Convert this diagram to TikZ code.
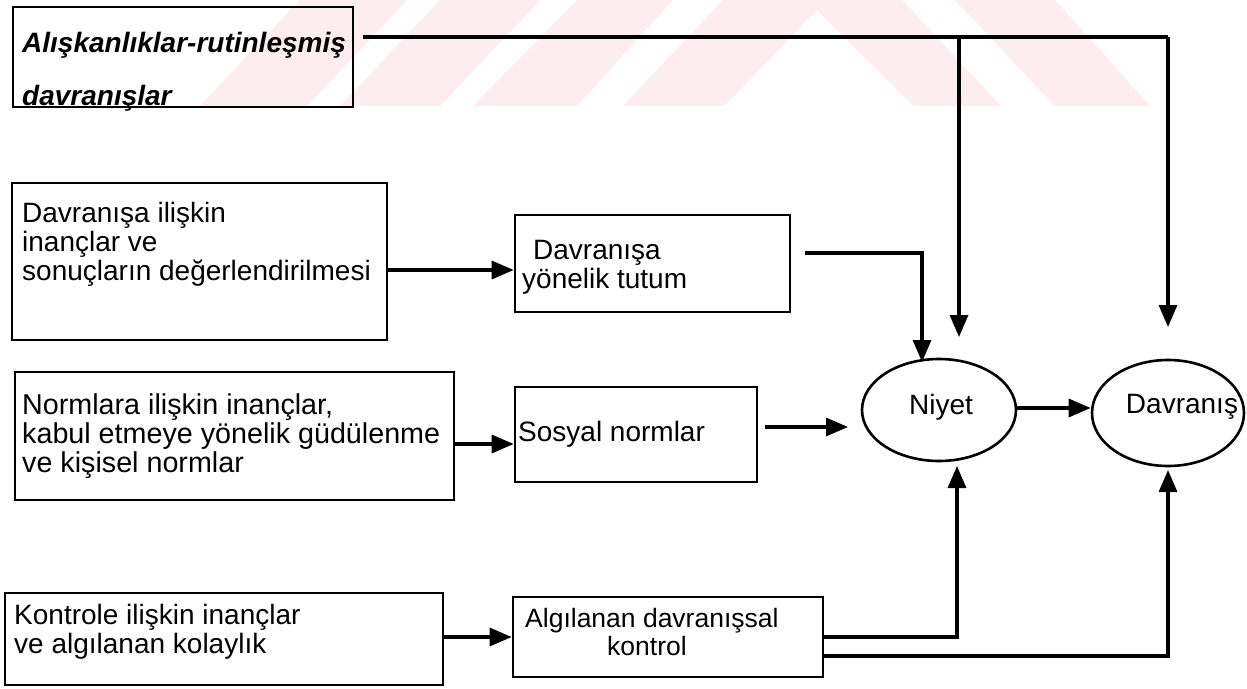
\documentclass[tikz,border=0pt]{standalone}
\usepackage{fontspec}
\setmainfont{Liberation Sans}
\usetikzlibrary{arrows.meta,positioning,shapes.geometric}
\definecolor{markPink}{RGB}{253,236,240}

\begin{document}
\begin{tikzpicture}[x=1pt,y=-1pt,>={Triangle[length=22pt,width=18pt]},
    box/.style={draw,line width=2.6pt,inner sep=0pt},
    oval/.style={ellipse,draw,line width=2.6pt,inner sep=0pt},
    lbl/.style={inner sep=0pt,align=left,anchor=north west,
                font=\fontsize{28}{29}\selectfont},
    ln/.style={line width=3.2pt}]
  \useasboundingbox (0,0) rectangle (1247,688);
  % watermark stripes behind the top row
  \fill[markPink] (300,0) -- (407,0) -- (307,106) -- (200,106) -- cycle;
  \fill[markPink] (440,0) -- (540,0) -- (440,106) -- (340,106) -- cycle;
  \fill[markPink] (577,0) -- (673,0) -- (577,106) -- (473,106) -- cycle;
  \fill[markPink] (723,0) -- (902,0) -- (1001,106) -- (914,106) -- (817,10)
    -- (724,106) -- (623,106) -- cycle;
  \fill[markPink] (955,0) -- (1055,0) -- (1150,106) -- (1055,106) -- cycle;
  % boxes
  \node[box,minimum width=340pt,minimum height=100pt] (habit) at (183,57) {};
  \node[box,minimum width=375pt,minimum height=157pt] (davInanc) at (199.5,261.5) {};
  \node[box,minimum width=275pt,minimum height=97pt] (tutum) at (652.5,263.5) {};
  \node[box,minimum width=439pt,minimum height=128pt] (normInanc) at (234.5,436) {};
  \node[box,minimum width=242pt,minimum height=95pt] (sosyal) at (636,434.5) {};
  \node[box,minimum width=438pt,minimum height=92pt] (kontInanc) at (224,639) {};
  \node[box,minimum width=310pt,minimum height=80pt] (algi) at (668,637) {};
  \node[oval,minimum width=154pt,minimum height=102pt] (niyet) at (939,410) {};
  \node[oval,minimum width=152pt,minimum height=106pt] (davranis) at (1168,413) {};
  % texts
  \node[lbl,font=\fontsize{28}{53}\selectfont\bfseries\itshape] (habitTxt) at (22,32)
    {Alışkanlıklar-rutinleşmiş\\davranışlar};
  \node[lbl] (davInancTxt) at (22,202)
    {Davranışa ilişkin\\inançlar ve\\sonuçların değerlendirilmesi};
  \node[lbl] (tutumTxt) at (522,240) {\hspace*{11pt}Davranışa\\yönelik tutum};
  \node[lbl,font=\fontsize{28.7}{29}\selectfont] (normTxt) at (22,393)
    {Normlara ilişkin inançlar,\\kabul etmeye yönelik güdülenme\\ve kişisel normlar};
  \node[lbl] (sosyalTxt) at (518,421) {Sosyal normlar};
  \node[lbl] (kontTxt) at (14,604) {Kontrole ilişkin inançlar\\ve algılanan kolaylık};
  \node[lbl,font=\fontsize{26.5}{28}\selectfont] (algiTxt) at (525,608)
    {Algılanan davranışsal\\\hspace*{82pt}kontrol};
  \node[lbl,anchor=center] (niyetTxt) at (941,407) {Niyet};
  \node[lbl,anchor=center] (davranisTxt) at (1182,407) {Davranış};
  % habit line
  \coordinate (habitOut) at (363,37);
  \coordinate (habitMid) at (959,37);
  \coordinate (habitEnd) at (1168,37);
  \coordinate (habitTip) at (959,337);
  \coordinate (davTop) at (1168,327);
  \draw[ln] (habitOut) -- (habitEnd);
  \draw[ln,->] (habitMid) -- (habitTip);
  \draw[ln,->] (habitEnd) -- (davTop);
  % attitude row
  \coordinate (tutumRow) at (0,270);
  \draw[ln,->] (davInanc.east |- tutumRow) -- (tutum.west |- tutumRow);
  \coordinate (tutumOut) at (805,253);
  \coordinate (tutumTip) at (922,362);
  \draw[ln,->] (tutumOut) -| (tutumTip);
  % norm row
  \coordinate (normRow) at (0,444);
  \draw[ln,->] (normInanc.east |- normRow) -- (sosyal.west |- normRow);
  \coordinate (sosyalOut) at (765,427);
  \coordinate (sosyalTip) at (848,427);
  \draw[ln,->] (sosyalOut) -- (sosyalTip);
  \coordinate (niyetRow) at (0,408);
  \draw[ln,->] (niyet.east |- niyetRow) -- (davranis.west |- niyetRow);
  % control row
  \coordinate (algiRowA) at (0,637);
  \coordinate (algiRowB) at (0,656);
  \coordinate (niyetTip) at (957,466);
  \coordinate (davBottom) at (1168,470);
  \draw[ln,->] (kontInanc.east |- algiRowA) -- (algi.west |- algiRowA);
  \draw[ln,->] (algi.east |- algiRowA) -| (niyetTip);
  \draw[ln,->] (algi.east |- algiRowB) -| (davBottom);
\end{tikzpicture}
\end{document}
